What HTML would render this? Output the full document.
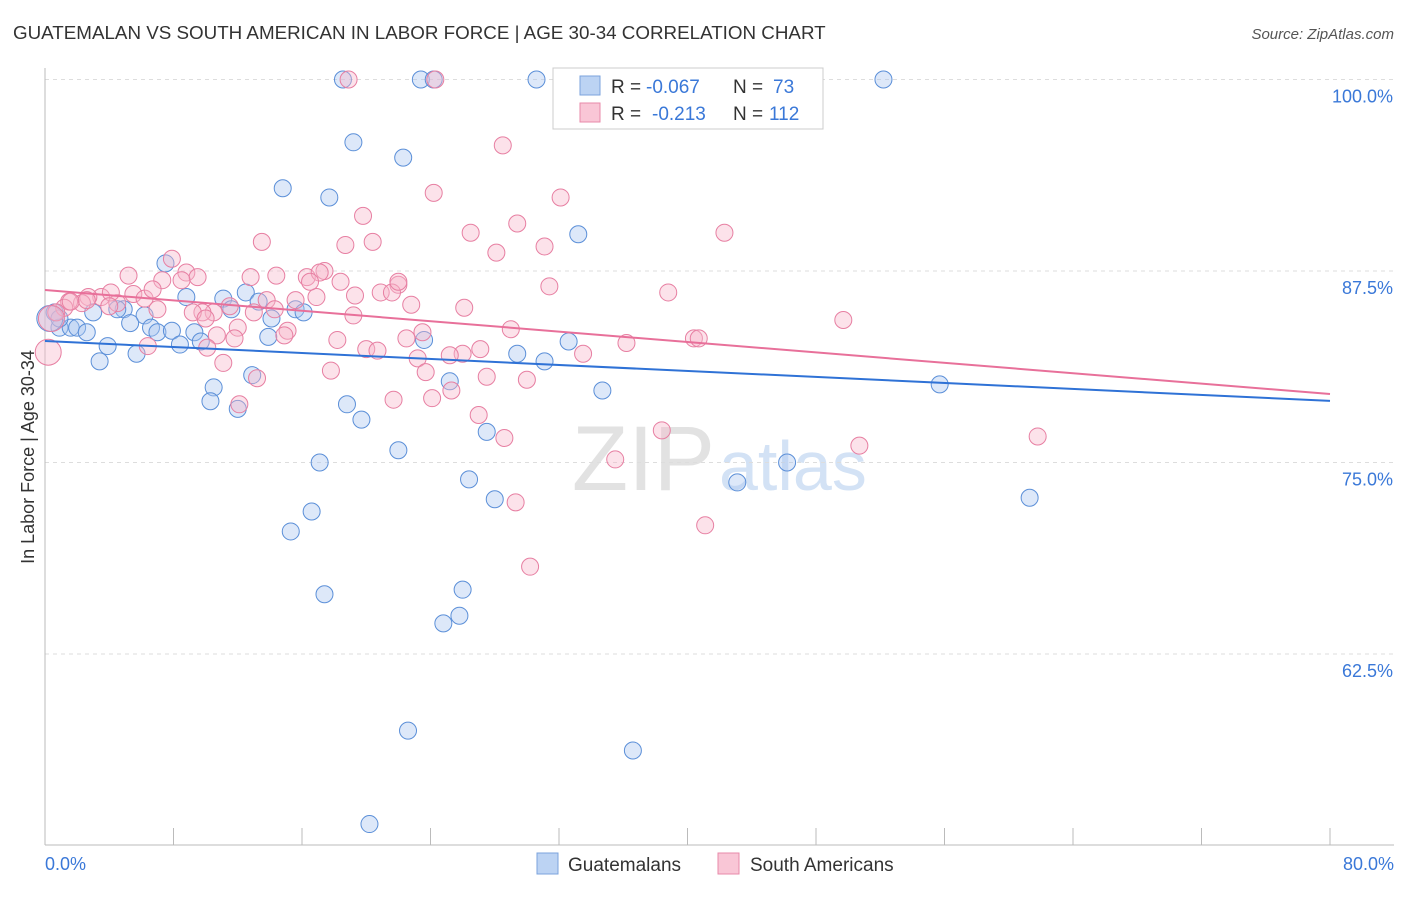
<!DOCTYPE html>
<html><head><meta charset="utf-8">
<style>
body{margin:0;background:#fff;font-family:"Liberation Sans",sans-serif;}
svg text{font-family:"Liberation Sans",sans-serif;}
</style></head>
<body>
<svg id="chart" width="1406" height="892" xmlns="http://www.w3.org/2000/svg">
<text x="13" y="39" font-size="18.8" fill="#333">GUATEMALAN VS SOUTH AMERICAN IN LABOR FORCE | AGE 30-34 CORRELATION CHART</text>
<text x="1394" y="39" font-size="15" fill="#555" font-style="italic" text-anchor="end">Source: ZipAtlas.com</text>
<text x="715" y="490" font-size="92" fill="#e2e2e2" font-family="Liberation Serif" text-anchor="end">ZIP</text>
<text x="719" y="490" font-size="70" fill="#d3e2f5">atlas</text>
<g id="grid"></g>
<g id="axes"></g>
<g id="pts"></g>
<g id="trend"></g>
<text transform="translate(34,457) rotate(-90)" font-size="18" fill="#333" text-anchor="middle">In Labor Force | Age 30-34</text>
<text x="45" y="870" font-size="18" fill="#3a78d8">0.0%</text>
<text x="1394" y="870" font-size="18" fill="#3a78d8" text-anchor="end">80.0%</text>
<g>
<rect x="553" y="68" width="270" height="61" fill="#fff" stroke="#ccc"/>
<rect x="580" y="76" width="20" height="19" fill="#bcd3f3" stroke="#7ba3dc"/>
<rect x="580" y="103" width="20" height="19" fill="#f9c6d6" stroke="#e88aa9"/>
<text x="611" y="93" font-size="19" fill="#333">R =</text><text x="646" y="93" font-size="19" fill="#3a78d8">-0.067</text>
<text x="733" y="93" font-size="19" fill="#333">N =</text><text x="773" y="93" font-size="19" fill="#3a78d8">73</text>
<text x="611" y="120" font-size="19" fill="#333">R =</text><text x="652" y="120" font-size="19" fill="#3a78d8">-0.213</text>
<text x="733" y="120" font-size="19" fill="#333">N =</text><text x="769" y="120" font-size="19" fill="#3a78d8">112</text>
</g>
<g>
<rect x="537" y="853" width="21" height="21" fill="#bcd3f3" stroke="#7ba3dc"/>
<text x="568" y="871" font-size="19" fill="#333">Guatemalans</text></g>
<g>
<rect x="718" y="853" width="21" height="21" fill="#f9c6d6" stroke="#e88aa9"/>
<text x="750" y="871" font-size="19" fill="#333">South Americans</text></g>
</svg>
<script>
const yTicks=[100,87.5,75,62.5];
const yTickLabels=["100.0%","87.5%","75.0%","62.5%"];
const xTicks=[0,8,16,24,32,40,48,56,64,72,80];
const blueTrend=[82.93,79.02];
const pinkTrend=[86.26,79.47];
const blueX=[18.55,23.4,24.2,30.6,43.5,52.2,19.2,22.3,14.8,17.7,33.2,7.5,8.8,11.1,12.5,13.3,15.6,16.1,11.6,4.9,4.5,6.2,3.0,0.6,0.9,1.6,2.0,2.6,5.3,6.6,7.0,7.9,9.3,9.7,8.4,3.9,5.7,3.4,13.9,23.6,29.4,31.1,32.6,34.7,12.9,10.5,10.3,12.0,18.8,19.7,27.5,22.0,17.1,46.2,26.4,28.0,43.1,61.3,16.6,15.3,26.0,17.4,25.8,24.8,22.6,36.6,20.2,55.7,25.2,14.1,0.9,0.3];
const blueY=[100,100,100,100,100,100,95.9,94.9,92.9,92.3,89.9,88.0,85.8,85.7,86.1,85.5,85.0,84.8,85.0,85.0,85.0,84.6,84.8,84.8,83.8,83.8,83.8,83.5,84.1,83.8,83.5,83.6,83.5,82.9,82.7,82.6,82.1,81.6,83.2,83.0,82.1,81.6,82.9,79.7,80.7,79.9,79.0,78.5,78.8,77.8,77.0,75.8,75.0,75.0,73.9,72.6,73.7,72.7,71.8,70.5,66.7,66.4,65.0,64.5,57.5,56.2,51.4,80.1,80.3,84.4,84.4,84.4];
const pinkX=[32.5,24.3,18.9,28.5,24.2,32.1,19.8,29.4,26.5,20.4,31.1,42.3,13.5,18.7,28.1,7.9,8.8,9.5,7.3,8.5,5.2,12.8,14.4,16.3,17.4,17.1,18.4,22.0,20.9,21.6,31.4,38.8,16.9,15.6,13.8,14.3,13.0,11.5,10.5,9.8,9.2,10.0,4.5,3.5,4.1,5.5,6.2,7.0,2.7,2.3,1.5,1.2,0.7,0.4,1.6,2.6,4.0,26.1,22.8,19.2,15.1,12.0,10.7,11.8,10.1,6.4,11.1,13.2,23.5,22.5,29.0,49.7,40.4,40.7,36.2,33.5,27.1,26.0,25.2,18.2,20.0,20.7,23.2,23.7,27.5,30.0,25.3,24.1,21.7,17.8,12.1,27.0,28.6,38.4,50.7,61.8,35.5,29.3,41.1,30.2,0.2,16.5,19.3,22.0,6.7,14.9];
const pinkY=[100,100,100,95.7,92.6,92.3,91.1,90.6,90.0,89.4,89.1,90.0,89.4,89.2,88.7,88.3,87.4,87.1,86.9,86.9,87.2,87.1,87.2,87.1,87.5,87.4,86.8,86.6,86.1,86.1,86.5,86.1,85.8,85.6,85.6,85.0,84.8,85.2,84.8,84.8,84.8,84.4,85.4,85.8,86.1,86.0,85.7,85.0,85.8,85.4,85.5,85.1,84.8,84.4,85.5,85.6,85.2,85.1,85.3,84.6,83.6,83.8,83.3,83.1,82.5,82.6,81.5,80.5,83.5,83.1,83.7,84.3,83.1,83.1,82.8,82.1,82.4,82.1,82.0,83.0,82.4,82.3,81.8,80.9,80.6,80.4,79.7,79.2,79.1,81.0,78.8,78.1,76.6,77.1,76.1,76.7,75.2,72.4,70.9,68.2,82.2,86.8,85.9,86.8,86.3,83.3];
const NS="http://www.w3.org/2000/svg";
const sx=v=>45+v/80*1285;
const sy=v=>79.5+(100-v)/12.5*191.5;
function mk(tag,attrs,parent){const e=document.createElementNS(NS,tag);for(const k in attrs)e.setAttribute(k,attrs[k]);parent.appendChild(e);return e;}
const grid=document.getElementById('grid'),axes=document.getElementById('axes'),pts=document.getElementById('pts'),trend=document.getElementById('trend');
yTicks.forEach((t,i)=>{
  const l=mk('line',{x1:45,x2:1394,y1:sy(t),y2:sy(t),stroke:'#ddd','stroke-dasharray':'4,4'},grid);
  
  
  const tx=mk('text',{x:1393,y:sy(t)+23,'font-size':18,fill:'#3a78d8','text-anchor':'end'},grid);
  tx.textContent=yTickLabels[i];
  
  
});
const xa=mk('line',{x1:45,x2:1394,y1:845,y2:845,stroke:'#bbb'},axes);


const ya=mk('line',{x1:45,x2:45,y1:68,y2:845,stroke:'#bbb'},axes);


xTicks.forEach(t=>{
  const l=mk('line',{x1:sx(t),x2:sx(t),y1:828,y2:845,stroke:'#bbb'},axes);
  
  
});
function drawPts(X,Y,fill,stroke,name){
  X.forEach((x,i)=>{
    const r=(x<0.5)?13:8.5;
    const c=mk('circle',{cx:sx(x),cy:sy(Y[i]),r:r,fill:fill,'fill-opacity':0.4,stroke:stroke,'stroke-width':1},pts);
    
    
  });
}
drawPts(blueX,blueY,'#a9c5ef','#5b8fd8','guatemalan-point');
drawPts(pinkX,pinkY,'#f7b6cb','#e77fa2','south-american-point');
function drawTrend(T,col,name){
  const l=mk('line',{x1:sx(0),y1:sy(T[0]),x2:sx(80),y2:sy(T[1]),stroke:col,'stroke-width':2},trend);
  
  
}
drawTrend(blueTrend,'#2f72d6','guatemalan-trendline');
drawTrend(pinkTrend,'#e8709a','south-american-trendline');
</script>
</body></html>
